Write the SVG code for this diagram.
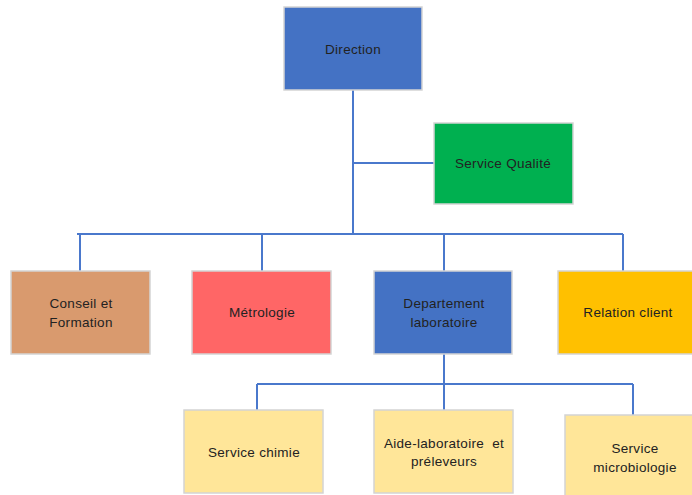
<svg xmlns="http://www.w3.org/2000/svg" width="692" height="495" viewBox="0 0 692 495">
<style>
.box{stroke:#d4d4d4;stroke-width:1.5}
.blue{fill:#4472C4}
.green{fill:#00B050}
.tan{fill:#D99A6E}
.red{fill:#FF6666}
.gold{fill:#FFC000}
.pale{fill:#FFE699}
.lbl{font-family:"Liberation Sans",Arial,sans-serif;font-size:13.5px;letter-spacing:0.3px;fill:#222;text-anchor:middle;dominant-baseline:central}
.conn{stroke:#4A78CC;stroke-width:2;fill:none}
</style>
<rect width="692" height="495" fill="#ffffff"/>
<g id="connectors">
<path class="conn" d="M353 90 V234"/>
<path class="conn" d="M353 163 H434"/>
<path class="conn" d="M77 234 H623"/>
<path class="conn" d="M80 234 V271"/>
<path class="conn" d="M262 234 V271"/>
<path class="conn" d="M444 234 V271"/>
<path class="conn" d="M623 234 V271"/>
<path class="conn" d="M444 354 V410"/>
<path class="conn" d="M257 384 H633"/>
<path class="conn" d="M257 384 V410"/>
<path class="conn" d="M633 384 V415"/>
</g>
<g id="direction">
<rect class="box blue" x="284" y="7" width="138" height="83"/>
<text class="lbl" x="353" y="49">Direction</text>
</g>
<g id="service-qualite">
<rect class="box green" x="434" y="123" width="139" height="81"/>
<text class="lbl" x="503" y="163">Service Qualité</text>
</g>
<g id="conseil-formation">
<rect class="box tan" x="11" y="271" width="139" height="83"/>
<text class="lbl" x="81" y="303">Conseil et</text>
<text class="lbl" x="81" y="322">Formation</text>
</g>
<g id="metrologie">
<rect class="box red" x="192" y="271" width="139" height="83"/>
<text class="lbl" x="262" y="312">Métrologie</text>
</g>
<g id="departement-laboratoire">
<rect class="box blue" x="374" y="271" width="138" height="83"/>
<text class="lbl" x="444" y="303">Departement</text>
<text class="lbl" x="444" y="322">laboratoire</text>
</g>
<g id="relation-client">
<rect class="box gold" x="558" y="271" width="140" height="83"/>
<text class="lbl" x="628" y="312">Relation client</text>
</g>
<g id="service-chimie">
<rect class="box pale" x="184" y="410" width="139" height="83"/>
<text class="lbl" x="254" y="452">Service chimie</text>
</g>
<g id="aide-laboratoire">
<rect class="box pale" x="374" y="410" width="139" height="83"/>
<text class="lbl" x="444" y="443" style="white-space:pre">Aide-laboratoire  et</text>
<text class="lbl" x="444" y="461">préleveurs</text>
</g>
<g id="service-microbiologie">
<rect class="box pale" x="565" y="415" width="140" height="85"/>
<text class="lbl" x="635" y="448">Service</text>
<text class="lbl" x="635" y="467">microbiologie</text>
</g>
</svg>
